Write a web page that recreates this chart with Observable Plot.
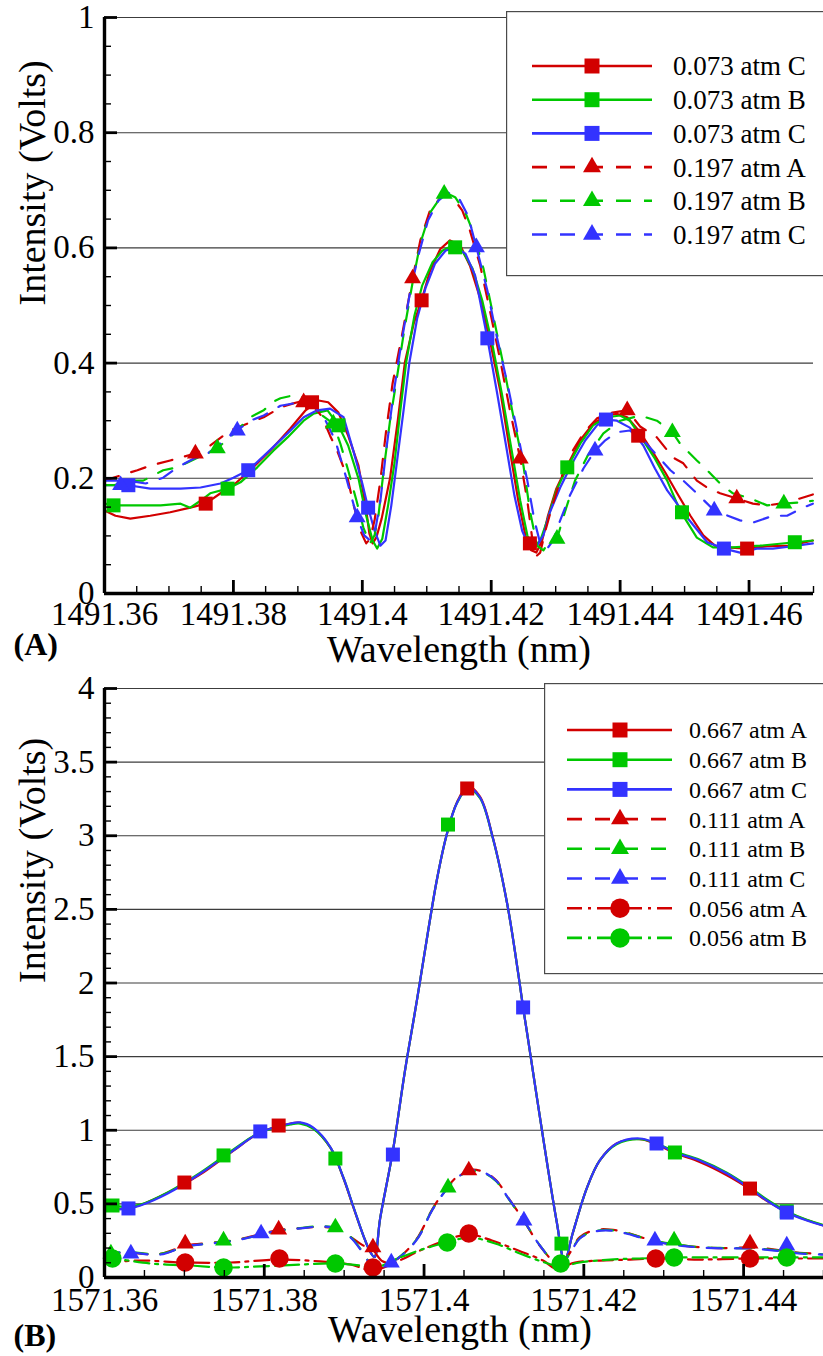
<!DOCTYPE html>
<html><head><meta charset="utf-8">
<script src="https://cdn.jsdelivr.net/npm/d3@7"></script>
<script src="https://cdn.jsdelivr.net/npm/@observablehq/plot@0.6"></script>
<style>
html,body{margin:0;padding:0;background:#fff;overflow:hidden;font-family:"Liberation Serif",serif;}
#wrap{position:relative;width:823px;}
.panel{position:relative;width:823px;}
.panel svg{display:block;}
</style></head><body><div id="wrap"></div>
<script>
// ---------------- Panel A data (wavelength nm, intensity V) ----------------
const A_labels = ["0.073 atm C","0.073 atm B","0.073 atm C","0.197 atm A","0.197 atm B","0.197 atm C"];
const A_xTicks = [1491.36,1491.38,1491.40,1491.42,1491.44,1491.46];
const A_xLabels = ["1491.36","1491.38","1491.4","1491.42","1491.44","1491.46"];
const A_xMinor = [1491.365,1491.37,1491.375,1491.385,1491.39,1491.395,1491.405,1491.41,1491.415,1491.425,1491.43,1491.435,1491.445,1491.45,1491.455,1491.465,1491.47];
const A_yTicks = [0,0.2,0.4,0.6,0.8,1];
const A_yLabels = ["0","0.2","0.4","0.6","0.8","1"];
const A_yMinor = [0.05,0.1,0.15,0.25,0.3,0.35,0.45,0.5,0.55,0.65,0.7,0.75,0.85,0.9,0.95];

const A_073C_red = [[1491.3600,0.144],[1491.3617,0.135],[1491.3640,0.130],[1491.3671,0.135],[1491.3702,0.141],[1491.3733,0.149],[1491.3757,0.156],[1491.3780,0.174],[1491.3803,0.191],[1491.3826,0.214],[1491.3857,0.248],[1491.3888,0.286],[1491.3912,0.318],[1491.3932,0.335],[1491.3947,0.332],[1491.3963,0.314],[1491.3978,0.274],[1491.3994,0.222],[1491.4005,0.153],[1491.4011,0.104],[1491.4016,0.087],[1491.4022,0.098],[1491.4030,0.130],[1491.4043,0.200],[1491.4055,0.300],[1491.4066,0.401],[1491.4080,0.470],[1491.4092,0.509],[1491.4105,0.560],[1491.4121,0.598],[1491.4136,0.613],[1491.4152,0.604],[1491.4167,0.569],[1491.4183,0.512],[1491.4198,0.439],[1491.4214,0.352],[1491.4229,0.248],[1491.4242,0.161],[1491.4253,0.101],[1491.4262,0.075],[1491.4270,0.071],[1491.4279,0.092],[1491.4288,0.135],[1491.4301,0.182],[1491.4318,0.222],[1491.4338,0.266],[1491.4358,0.295],[1491.4380,0.309],[1491.4395,0.312],[1491.4411,0.306],[1491.4431,0.280],[1491.4451,0.245],[1491.4470,0.210],[1491.4488,0.175],[1491.4509,0.135],[1491.4529,0.101],[1491.4547,0.083],[1491.4566,0.080],[1491.4597,0.078],[1491.4628,0.082],[1491.4664,0.083],[1491.4699,0.092]];
const A_073B_green = [[1491.3600,0.156],[1491.3617,0.153],[1491.3656,0.153],[1491.3687,0.153],[1491.3718,0.156],[1491.3733,0.149],[1491.3749,0.161],[1491.3764,0.174],[1491.3791,0.182],[1491.3811,0.193],[1491.3837,0.219],[1491.3862,0.248],[1491.3884,0.271],[1491.3909,0.300],[1491.3924,0.312],[1491.3946,0.318],[1491.3963,0.292],[1491.3978,0.257],[1491.3994,0.200],[1491.4006,0.135],[1491.4016,0.092],[1491.4023,0.078],[1491.4031,0.095],[1491.4040,0.153],[1491.4050,0.227],[1491.4059,0.318],[1491.4068,0.401],[1491.4081,0.483],[1491.4093,0.535],[1491.4109,0.575],[1491.4124,0.595],[1491.4140,0.604],[1491.4155,0.595],[1491.4171,0.564],[1491.4186,0.509],[1491.4202,0.431],[1491.4217,0.344],[1491.4233,0.240],[1491.4245,0.161],[1491.4256,0.101],[1491.4265,0.078],[1491.4276,0.092],[1491.4287,0.127],[1491.4301,0.179],[1491.4318,0.219],[1491.4338,0.260],[1491.4358,0.292],[1491.4380,0.306],[1491.4400,0.309],[1491.4415,0.300],[1491.4431,0.274],[1491.4454,0.234],[1491.4473,0.196],[1491.4493,0.144],[1491.4519,0.097],[1491.4544,0.080],[1491.4575,0.080],[1491.4617,0.083],[1491.4671,0.089],[1491.4699,0.092]];
const A_073C_blue = [[1491.3600,0.188],[1491.3637,0.188],[1491.3671,0.182],[1491.3718,0.182],[1491.3749,0.184],[1491.3780,0.191],[1491.3800,0.201],[1491.3823,0.214],[1491.3853,0.245],[1491.3884,0.278],[1491.3909,0.306],[1491.3930,0.318],[1491.3950,0.321],[1491.3971,0.306],[1491.3986,0.248],[1491.4000,0.191],[1491.4009,0.149],[1491.4019,0.109],[1491.4028,0.083],[1491.4036,0.092],[1491.4045,0.153],[1491.4054,0.231],[1491.4064,0.318],[1491.4073,0.401],[1491.4085,0.477],[1491.4098,0.530],[1491.4113,0.573],[1491.4129,0.595],[1491.4144,0.601],[1491.4160,0.590],[1491.4175,0.552],[1491.4194,0.443],[1491.4209,0.349],[1491.4223,0.257],[1491.4236,0.170],[1491.4248,0.109],[1491.4260,0.078],[1491.4271,0.083],[1491.4281,0.101],[1491.4291,0.141],[1491.4307,0.184],[1491.4326,0.227],[1491.4346,0.266],[1491.4364,0.292],[1491.4378,0.302],[1491.4395,0.300],[1491.4415,0.288],[1491.4436,0.257],[1491.4454,0.217],[1491.4473,0.179],[1491.4504,0.132],[1491.4535,0.089],[1491.4561,0.078],[1491.4586,0.071],[1491.4612,0.078],[1491.4637,0.078],[1491.4668,0.082],[1491.4699,0.087]];
const A_197A_red = [[1491.3600,0.196],[1491.3625,0.205],[1491.3651,0.214],[1491.3671,0.222],[1491.3702,0.231],[1491.3741,0.243],[1491.3764,0.257],[1491.3795,0.283],[1491.3826,0.297],[1491.3847,0.306],[1491.3873,0.323],[1491.3893,0.330],[1491.3909,0.335],[1491.3924,0.326],[1491.3938,0.306],[1491.3950,0.274],[1491.3961,0.248],[1491.3977,0.201],[1491.3986,0.156],[1491.3997,0.109],[1491.4006,0.087],[1491.4012,0.095],[1491.4019,0.127],[1491.4028,0.196],[1491.4037,0.283],[1491.4047,0.365],[1491.4062,0.451],[1491.4078,0.547],[1491.4090,0.613],[1491.4105,0.665],[1491.4124,0.691],[1491.4140,0.688],[1491.4155,0.665],[1491.4167,0.630],[1491.4183,0.569],[1491.4198,0.491],[1491.4214,0.405],[1491.4229,0.318],[1491.4245,0.234],[1491.4256,0.161],[1491.4264,0.092],[1491.4268,0.063],[1491.4276,0.071],[1491.4284,0.109],[1491.4295,0.153],[1491.4307,0.196],[1491.4322,0.240],[1491.4343,0.278],[1491.4364,0.304],[1491.4388,0.314],[1491.4411,0.318],[1491.4431,0.290],[1491.4457,0.271],[1491.4482,0.236],[1491.4498,0.226],[1491.4519,0.196],[1491.4535,0.184],[1491.4555,0.174],[1491.4581,0.165],[1491.4606,0.156],[1491.4628,0.153],[1491.4648,0.156],[1491.4668,0.161],[1491.4699,0.172]];
const A_197B_green = [[1491.3600,0.188],[1491.3614,0.188],[1491.3645,0.196],[1491.3660,0.196],[1491.3691,0.214],[1491.3713,0.219],[1491.3741,0.234],[1491.3775,0.252],[1491.3803,0.280],[1491.3826,0.306],[1491.3847,0.318],[1491.3860,0.332],[1491.3873,0.339],[1491.3893,0.344],[1491.3909,0.340],[1491.3924,0.326],[1491.3938,0.309],[1491.3955,0.295],[1491.3966,0.260],[1491.3978,0.214],[1491.3991,0.161],[1491.4002,0.113],[1491.4012,0.087],[1491.4019,0.101],[1491.4025,0.135],[1491.4034,0.222],[1491.4043,0.300],[1491.4053,0.370],[1491.4065,0.457],[1491.4078,0.540],[1491.4090,0.608],[1491.4105,0.661],[1491.4127,0.697],[1491.4144,0.688],[1491.4160,0.661],[1491.4172,0.627],[1491.4188,0.564],[1491.4203,0.483],[1491.4219,0.396],[1491.4234,0.309],[1491.4250,0.222],[1491.4260,0.144],[1491.4271,0.083],[1491.4281,0.075],[1491.4291,0.092],[1491.4302,0.095],[1491.4315,0.144],[1491.4330,0.196],[1491.4350,0.240],[1491.4374,0.278],[1491.4400,0.300],[1491.4431,0.309],[1491.4457,0.300],[1491.4481,0.280],[1491.4493,0.260],[1491.4519,0.231],[1491.4535,0.214],[1491.4555,0.191],[1491.4575,0.174],[1491.4602,0.165],[1491.4628,0.153],[1491.4654,0.156],[1491.4679,0.158],[1491.4699,0.161]];
const A_197C_blue = [[1491.3600,0.196],[1491.3636,0.196],[1491.3664,0.191],[1491.3691,0.201],[1491.3713,0.219],[1491.3738,0.234],[1491.3760,0.243],[1491.3806,0.283],[1491.3826,0.300],[1491.3847,0.309],[1491.3873,0.326],[1491.3893,0.330],[1491.3912,0.332],[1491.3927,0.323],[1491.3943,0.300],[1491.3958,0.266],[1491.3974,0.205],[1491.3992,0.132],[1491.4003,0.101],[1491.4012,0.092],[1491.4020,0.109],[1491.4028,0.161],[1491.4037,0.248],[1491.4048,0.344],[1491.4060,0.431],[1491.4074,0.523],[1491.4087,0.587],[1491.4102,0.648],[1491.4118,0.682],[1491.4133,0.696],[1491.4149,0.688],[1491.4164,0.656],[1491.4177,0.601],[1491.4194,0.526],[1491.4209,0.444],[1491.4225,0.365],[1491.4240,0.283],[1491.4256,0.196],[1491.4267,0.127],[1491.4276,0.087],[1491.4287,0.078],[1491.4296,0.092],[1491.4307,0.127],[1491.4322,0.170],[1491.4343,0.217],[1491.4361,0.248],[1491.4377,0.266],[1491.4395,0.280],[1491.4415,0.283],[1491.4439,0.262],[1491.4462,0.234],[1491.4478,0.214],[1491.4498,0.196],[1491.4519,0.174],[1491.4546,0.144],[1491.4586,0.127],[1491.4606,0.123],[1491.4637,0.135],[1491.4659,0.135],[1491.4684,0.149],[1491.4699,0.156]];

const A_073C_red_mk = [[1491.3757,0.156],[1491.3922,0.332],[1491.4092,0.509],[1491.4260,0.087],[1491.4428,0.274],[1491.4597,0.078]];
const A_073B_green_mk = [[1491.3614,0.153],[1491.3791,0.182],[1491.3963,0.292],[1491.4144,0.601],[1491.4318,0.219],[1491.4496,0.141],[1491.4671,0.089]];
const A_073C_blue_mk = [[1491.3637,0.188],[1491.3823,0.214],[1491.4009,0.149],[1491.4194,0.443],[1491.4378,0.302],[1491.4561,0.078]];
const A_197A_red_mk = [[1491.3741,0.243],[1491.3909,0.332],[1491.4078,0.547],[1491.4245,0.234],[1491.4411,0.318],[1491.4581,0.165]];
const A_197B_green_mk = [[1491.3775,0.252],[1491.3955,0.295],[1491.4127,0.694],[1491.4302,0.095],[1491.4481,0.280],[1491.4654,0.156]];
const A_197C_blue_mk = [[1491.3625,0.188],[1491.3806,0.283],[1491.3992,0.132],[1491.4177,0.601],[1491.4361,0.248],[1491.4546,0.144]];

// ---------------- Panel B data ----------------
const B_labels = ["0.667 atm A","0.667 atm B","0.667 atm C","0.111 atm A","0.111 atm B","0.111 atm C","0.056 atm A","0.056 atm B"];
const B_xTicks = [1571.36,1571.38,1571.40,1571.42,1571.44];
const B_xLabels = ["1571.36","1571.38","1571.4","1571.42","1571.44"];
const B_xMinor = [1571.365,1571.37,1571.375,1571.385,1571.39,1571.395,1571.405,1571.41,1571.415,1571.425,1571.43,1571.435,1571.445,1571.45];
const B_yTicks = [0,0.5,1,1.5,2,2.5,3,3.5,4];
const B_yLabels = ["0","0.5","1","1.5","2","2.5","3","3.5","4"];
const B_yMinor = [0.1,0.2,0.3,0.4,0.6,0.7,0.8,0.9,1.1,1.2,1.3,1.4,1.6,1.7,1.8,1.9,2.1,2.2,2.3,2.4,2.6,2.7,2.8,2.9,3.1,3.2,3.3,3.4,3.6,3.7,3.8,3.9];

const B_667A_red = [[1571.3600,0.460],[1571.3630,0.472],[1571.3645,0.492],[1571.3679,0.575],[1571.3720,0.700],[1571.3761,0.860],[1571.3795,0.985],[1571.3833,1.046],[1571.3845,1.050],[1571.3861,1.015],[1571.3883,0.880],[1571.3899,0.675],[1571.3911,0.485],[1571.3924,0.285],[1571.3933,0.170],[1571.3938,0.140],[1571.3945,0.400],[1571.3961,0.860],[1571.3976,1.400],[1571.3991,1.880],[1571.4005,2.350],[1571.4016,2.700],[1571.4028,3.000],[1571.4041,3.225],[1571.4055,3.335],[1571.4070,3.265],[1571.4086,2.990],[1571.4104,2.540],[1571.4118,2.060],[1571.4124,1.834],[1571.4129,1.660],[1571.4149,0.950],[1571.4166,0.380],[1571.4176,0.110],[1571.4186,0.299],[1571.4204,0.611],[1571.4220,0.795],[1571.4241,0.910],[1571.4270,0.940],[1571.4291,0.905],[1571.4314,0.845],[1571.4345,0.785],[1571.4379,0.695],[1571.4408,0.600],[1571.4429,0.520],[1571.4454,0.445],[1571.4479,0.390],[1571.4499,0.355]];
const B_667B_green = [[1571.3600,0.490],[1571.3630,0.482],[1571.3645,0.495],[1571.3679,0.578],[1571.3720,0.712],[1571.3761,0.868],[1571.3795,0.985],[1571.3833,1.040],[1571.3845,1.045],[1571.3861,1.012],[1571.3883,0.880],[1571.3899,0.679],[1571.3911,0.489],[1571.3924,0.285],[1571.3933,0.170],[1571.3938,0.140],[1571.3945,0.400],[1571.3961,0.860],[1571.3976,1.400],[1571.3991,1.880],[1571.4005,2.350],[1571.4016,2.700],[1571.4028,3.000],[1571.4041,3.220],[1571.4055,3.320],[1571.4070,3.255],[1571.4086,2.985],[1571.4104,2.540],[1571.4118,2.060],[1571.4124,1.834],[1571.4129,1.660],[1571.4149,0.950],[1571.4166,0.380],[1571.4176,0.110],[1571.4186,0.299],[1571.4204,0.611],[1571.4220,0.795],[1571.4241,0.905],[1571.4270,0.940],[1571.4291,0.910],[1571.4314,0.855],[1571.4345,0.800],[1571.4379,0.712],[1571.4408,0.612],[1571.4429,0.530],[1571.4454,0.450],[1571.4479,0.392],[1571.4499,0.358]];
const B_667C_blue = [[1571.3600,0.455],[1571.3630,0.469],[1571.3645,0.489],[1571.3679,0.570],[1571.3720,0.706],[1571.3761,0.862],[1571.3795,0.985],[1571.3833,1.046],[1571.3845,1.053],[1571.3861,1.019],[1571.3883,0.883],[1571.3899,0.679],[1571.3911,0.489],[1571.3924,0.285],[1571.3933,0.170],[1571.3938,0.140],[1571.3945,0.400],[1571.3961,0.860],[1571.3976,1.400],[1571.3991,1.880],[1571.4005,2.350],[1571.4016,2.700],[1571.4028,3.000],[1571.4041,3.220],[1571.4055,3.328],[1571.4070,3.260],[1571.4086,2.988],[1571.4104,2.540],[1571.4118,2.060],[1571.4124,1.834],[1571.4129,1.660],[1571.4149,0.950],[1571.4166,0.380],[1571.4176,0.110],[1571.4186,0.299],[1571.4204,0.611],[1571.4220,0.795],[1571.4241,0.910],[1571.4270,0.944],[1571.4291,0.910],[1571.4314,0.849],[1571.4345,0.795],[1571.4379,0.706],[1571.4408,0.604],[1571.4429,0.523],[1571.4454,0.441],[1571.4479,0.387],[1571.4499,0.353]];
const B_111A_red = [[1571.3600,0.160],[1571.3630,0.168],[1571.3670,0.160],[1571.3701,0.215],[1571.3733,0.235],[1571.3764,0.255],[1571.3796,0.295],[1571.3818,0.322],[1571.3845,0.335],[1571.3870,0.343],[1571.3889,0.330],[1571.3908,0.275],[1571.3923,0.220],[1571.3936,0.185],[1571.3948,0.110],[1571.3960,0.105],[1571.3975,0.165],[1571.3993,0.280],[1571.4010,0.460],[1571.4030,0.620],[1571.4045,0.700],[1571.4060,0.732],[1571.4075,0.716],[1571.4090,0.662],[1571.4105,0.545],[1571.4125,0.385],[1571.4145,0.215],[1571.4165,0.105],[1571.4178,0.135],[1571.4195,0.275],[1571.4214,0.322],[1571.4233,0.326],[1571.4253,0.305],[1571.4275,0.268],[1571.4295,0.240],[1571.4320,0.220],[1571.4345,0.206],[1571.4376,0.200],[1571.4408,0.205],[1571.4439,0.190],[1571.4470,0.168],[1571.4499,0.160]];
const B_111B_green = [[1571.3600,0.168],[1571.3630,0.172],[1571.3670,0.160],[1571.3701,0.208],[1571.3733,0.233],[1571.3764,0.253],[1571.3796,0.290],[1571.3818,0.318],[1571.3845,0.335],[1571.3870,0.348],[1571.3889,0.338],[1571.3908,0.276],[1571.3923,0.175],[1571.3935,0.085],[1571.3945,0.083],[1571.3959,0.104],[1571.3975,0.166],[1571.3993,0.276],[1571.4010,0.458],[1571.4030,0.611],[1571.4045,0.692],[1571.4060,0.724],[1571.4075,0.710],[1571.4090,0.655],[1571.4105,0.540],[1571.4125,0.385],[1571.4145,0.218],[1571.4165,0.104],[1571.4178,0.132],[1571.4195,0.268],[1571.4214,0.315],[1571.4233,0.322],[1571.4253,0.302],[1571.4275,0.268],[1571.4295,0.242],[1571.4320,0.222],[1571.4345,0.206],[1571.4376,0.200],[1571.4408,0.198],[1571.4439,0.186],[1571.4470,0.166],[1571.4499,0.158]];
const B_111C_blue = [[1571.3600,0.163],[1571.3630,0.170],[1571.3670,0.156],[1571.3701,0.211],[1571.3733,0.231],[1571.3764,0.251],[1571.3796,0.292],[1571.3818,0.319],[1571.3845,0.333],[1571.3870,0.346],[1571.3889,0.333],[1571.3908,0.272],[1571.3923,0.170],[1571.3935,0.081],[1571.3945,0.081],[1571.3959,0.102],[1571.3975,0.163],[1571.3993,0.272],[1571.4010,0.455],[1571.4030,0.611],[1571.4045,0.693],[1571.4060,0.727],[1571.4075,0.713],[1571.4090,0.659],[1571.4105,0.543],[1571.4125,0.387],[1571.4145,0.217],[1571.4165,0.102],[1571.4178,0.129],[1571.4195,0.265],[1571.4214,0.312],[1571.4233,0.319],[1571.4253,0.299],[1571.4275,0.265],[1571.4295,0.238],[1571.4320,0.217],[1571.4345,0.204],[1571.4376,0.197],[1571.4408,0.197],[1571.4439,0.183],[1571.4470,0.163],[1571.4499,0.156]];
const B_056A_red = [[1571.3600,0.102],[1571.3645,0.115],[1571.3701,0.102],[1571.3758,0.102],[1571.3819,0.122],[1571.3870,0.109],[1571.3908,0.088],[1571.3936,0.048],[1571.3964,0.102],[1571.3995,0.183],[1571.4026,0.251],[1571.4056,0.292],[1571.4085,0.251],[1571.4118,0.183],[1571.4149,0.115],[1571.4165,0.061],[1571.4189,0.102],[1571.4220,0.115],[1571.4258,0.122],[1571.4290,0.129],[1571.4345,0.122],[1571.4408,0.129],[1571.4458,0.129],[1571.4499,0.129]];
const B_056B_green = [[1571.3600,0.129],[1571.3610,0.129],[1571.3658,0.095],[1571.3708,0.081],[1571.3749,0.068],[1571.3795,0.075],[1571.3845,0.088],[1571.3889,0.095],[1571.3920,0.081],[1571.3936,0.061],[1571.3970,0.136],[1571.4001,0.197],[1571.4029,0.238],[1571.4056,0.272],[1571.4089,0.231],[1571.4120,0.163],[1571.4151,0.102],[1571.4171,0.075],[1571.4195,0.102],[1571.4233,0.122],[1571.4270,0.129],[1571.4313,0.136],[1571.4370,0.136],[1571.4454,0.136],[1571.4499,0.136]];

const B_667A_red_mk = [[1571.3700,0.645],[1571.3818,1.032],[1571.4054,3.321],[1571.4408,0.604]];
const B_667B_green_mk = [[1571.3610,0.489],[1571.3749,0.829],[1571.3889,0.808],[1571.4030,3.076],[1571.4172,0.230],[1571.4314,0.849],[1571.4454,0.450]];
const B_667C_blue_mk = [[1571.3630,0.469],[1571.3795,0.992],[1571.3961,0.835],[1571.4124,1.834],[1571.4291,0.910],[1571.4454,0.441]];
const B_111A_red_mk = [[1571.3701,0.231],[1571.3818,0.326],[1571.3936,0.204],[1571.4056,0.727],[1571.4408,0.231]];
const B_111B_green_mk = [[1571.3608,0.163],[1571.3749,0.251],[1571.3889,0.340],[1571.4030,0.611],[1571.4313,0.251]];
const B_111C_blue_mk = [[1571.3633,0.163],[1571.3796,0.299],[1571.3959,0.102],[1571.4125,0.387],[1571.4289,0.251],[1571.4454,0.217]];
const B_056A_red_mk = [[1571.3701,0.102],[1571.3819,0.129],[1571.3936,0.068],[1571.4056,0.299],[1571.4290,0.129],[1571.4408,0.129]];
const B_056B_green_mk = [[1571.3610,0.129],[1571.3749,0.068],[1571.3889,0.095],[1571.4029,0.238],[1571.4171,0.095],[1571.4313,0.136],[1571.4454,0.136]];

// ---------------- styles ----------------
const RED = "#d20000", GREEN = "#00c800", BLUE = "#3333ff";
const DASH = "15,13", DASHDOT = "15,6,3,6";
const SYM = {square: {plot: "square", d3: d3.symbolSquare}, triangle: {plot: "triangle", d3: d3.symbolTriangle}, circle: {plot: "circle", d3: d3.symbolCircle}};

const seriesA = [
  {label: A_labels[0], line: A_073C_red, pts: A_073C_red_mk, color: RED, dash: null, sym: "square"},
  {label: A_labels[1], line: A_073B_green, pts: A_073B_green_mk, color: GREEN, dash: null, sym: "square"},
  {label: A_labels[2], line: A_073C_blue, pts: A_073C_blue_mk, color: BLUE, dash: null, sym: "square"},
  {label: A_labels[3], line: A_197A_red, pts: A_197A_red_mk, color: RED, dash: DASH, sym: "triangle"},
  {label: A_labels[4], line: A_197B_green, pts: A_197B_green_mk, color: GREEN, dash: DASH, sym: "triangle"},
  {label: A_labels[5], line: A_197C_blue, pts: A_197C_blue_mk, color: BLUE, dash: DASH, sym: "triangle"}
];
const seriesB = [
  {label: B_labels[0], line: B_667A_red, pts: B_667A_red_mk, color: RED, dash: null, sym: "square"},
  {label: B_labels[1], line: B_667B_green, pts: B_667B_green_mk, color: GREEN, dash: null, sym: "square"},
  {label: B_labels[2], line: B_667C_blue, pts: B_667C_blue_mk, color: BLUE, dash: null, sym: "square"},
  {label: B_labels[3], line: B_111A_red, pts: B_111A_red_mk, color: RED, dash: DASH, sym: "triangle"},
  {label: B_labels[4], line: B_111B_green, pts: B_111B_green_mk, color: GREEN, dash: DASH, sym: "triangle"},
  {label: B_labels[5], line: B_111C_blue, pts: B_111C_blue_mk, color: BLUE, dash: DASH, sym: "triangle"},
  {label: B_labels[6], line: B_056A_red, pts: B_056A_red_mk, color: RED, dash: DASHDOT, sym: "circle"},
  {label: B_labels[7], line: B_056B_green, pts: B_056B_green_mk, color: GREEN, dash: DASHDOT, sym: "circle"}
];

const FONT = "Liberation Serif";
const DOT_R = {square: 7.9, triangle: 6.3, circle: 9.2};
const LEG_SIZE = {square: 225, triangle: 140, circle: 300};

function buildPanel(P) {
  const fw = 823 - 104 - P.mr, fh = P.h - P.mt - P.mb;
  const xy = {x: d => d[0], y: d => d[1]};
  const marks = [
    Plot.ruleY(P.yTicks.slice(1), {stroke: "#3c3c3c", strokeWidth: 1.1}),
    ...P.series.map(s => Plot.line(s.line, {...xy, stroke: s.color, strokeWidth: 2.2, strokeDasharray: s.dash || undefined, curve: P.curve})),
    ...P.series.map(s => Plot.dot(s.pts, {...xy, symbol: SYM[s.sym].plot, r: DOT_R[s.sym], fill: s.color, stroke: "none"})),
    Plot.ruleY(P.yMinor, {insetRight: fw - 7, stroke: "#000", strokeWidth: 1.4}),
    Plot.ruleY(P.yTicks, {insetRight: fw - 13, stroke: "#000", strokeWidth: 2.8}),
    Plot.ruleX(P.xMinor, {insetTop: fh - 7, stroke: "#000", strokeWidth: 1.4}),
    Plot.ruleX(P.xTicks, {insetTop: fh - 13, stroke: "#000", strokeWidth: 2.8}),
    Plot.ruleX([P.xd[0]], {stroke: "#000", strokeWidth: 3.4}),
    Plot.ruleY([P.yd[0]], {stroke: "#000", strokeWidth: 3.4}),
    Plot.text(P.xTicks, {x: d => d, text: (d, i) => P.xLabels[i], frameAnchor: "bottom", lineAnchor: "top", dy: P.tickDy, fontSize: 33, fontFamily: FONT, fill: "#000"}),
    Plot.text(P.yTicks, {y: d => d, text: (d, i) => P.yLabels[i], frameAnchor: "left", textAnchor: "end", dx: -10, fontSize: 33, fontFamily: FONT, fill: "#000"}),
    Plot.text([P.yTitle], {text: d => d, frameAnchor: "left", rotate: -90, dx: -72, fontSize: 38, fontFamily: FONT, fill: "#000"}),
    Plot.text([P.xTitle], {text: d => d, frameAnchor: "bottom", lineAnchor: "top", dx: P.titleDx, dy: P.titleDy, fontSize: 38, fontFamily: FONT, fill: "#000"}),
    Plot.text([P.tag], {text: d => d, frameAnchor: "bottom-left", textAnchor: "start", lineAnchor: "top", dx: -91, dy: P.tagDy, fontSize: 32, fontWeight: "bold", fontFamily: FONT, fill: "#000"})
  ];
  const chart = Plot.plot({
    width: 823, height: P.h,
    marginLeft: 104, marginRight: P.mr, marginTop: P.mt, marginBottom: P.mb,
    x: {domain: P.xd, axis: null},
    y: {domain: P.yd, axis: null},
    style: {fontFamily: FONT, background: "white", overflow: "visible"},
    marks
  });
  const div = document.createElement("div");
  div.className = "panel";
  div.style.height = P.h + "px";
  div.appendChild(chart);
  // legend overlay
  const L = P.legend;
  const svg = d3.select(div).append("svg")
    .attr("width", 823 - L.x).attr("height", L.h + 2)
    .style("position", "absolute").style("left", L.x + "px").style("top", L.y + "px")
    .style("overflow", "hidden");
  svg.append("rect").attr("x", 0.6).attr("y", 0.6).attr("width", 823 - L.x + 10).attr("height", L.h)
    .attr("fill", "#fff").attr("stroke", "#4a4a4a").attr("stroke-width", 1.2);
  P.series.forEach((s, i) => {
    const cy = L.row0 + i * L.step;
    svg.append("line").attr("x1", L.lx1 - L.x).attr("x2", L.lx2 - L.x).attr("y1", cy).attr("y2", cy)
      .attr("stroke", s.color).attr("stroke-width", 2.6).attr("stroke-dasharray", s.dash || null);
    svg.append("path").attr("d", d3.symbol(SYM[s.sym].d3, LEG_SIZE[s.sym])())
      .attr("transform", `translate(${L.mx - L.x},${cy})`).attr("fill", s.color);
    svg.append("text").attr("x", L.tx - L.x).attr("y", cy).attr("dy", "0.35em")
      .attr("font-family", FONT).attr("font-size", L.fs).attr("fill", "#000").text(s.label);
  });
  return div;
}

const wrap = document.getElementById("wrap");
wrap.appendChild(buildPanel({
  h: 670, mt: 17, mb: 77, mr: 10, xd: [1491.36, 1491.47], yd: [0, 1], curve: "linear",
  series: seriesA, xTicks: A_xTicks, xLabels: A_xLabels, xMinor: A_xMinor,
  yTicks: A_yTicks, yLabels: A_yLabels, yMinor: A_yMinor,
  yTitle: "Intensity (Volts)", xTitle: "Wavelength (nm)", tag: "(A)",
  tickDy: 8, titleDx: 0, titleDy: 42, tagDy: 39,
  legend: {x: 506, y: 11, h: 264, row0: 55, step: 33.7, lx1: 532, lx2: 652, mx: 592, tx: 673, fs: 27}
}));
wrap.appendChild(buildPanel({
  h: 686, mt: 18, mb: 79, mr: 0, xd: [1571.36, 1571.45], yd: [0, 4], curve: "catmull-rom",
  series: seriesB, xTicks: B_xTicks, xLabels: B_xLabels, xMinor: B_xMinor,
  yTicks: B_yTicks, yLabels: B_yLabels, yMinor: B_yMinor,
  yTitle: "Intensity (Volts)", xTitle: "Wavelength (nm)", tag: "(B)",
  tickDy: 10, titleDx: -4, titleDy: 38, tagDy: 46,
  legend: {x: 544, y: 13, h: 290, row0: 47, step: 29.7, lx1: 567, lx2: 672, mx: 620, tx: 689, fs: 24}
}));
</script>
</body></html>
